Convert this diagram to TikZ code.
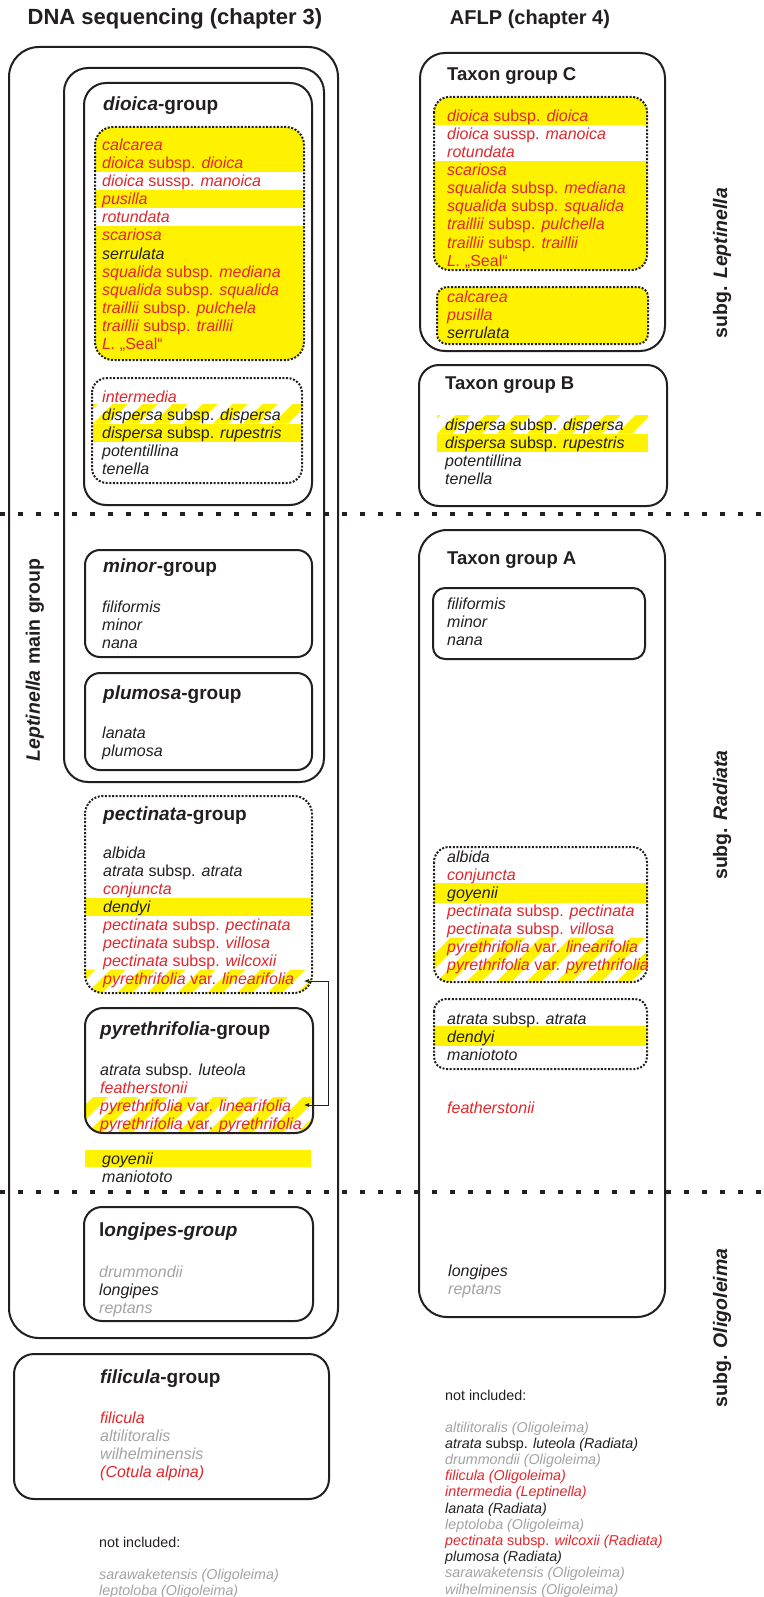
\documentclass[tikz,border=0pt]{standalone}
\usepackage{fontspec}
\setmainfont{Liberation Sans}
\usetikzlibrary{arrows.meta}
\definecolor{ink}{HTML}{231F20}
\definecolor{redt}{HTML}{E3262B}
\definecolor{grayt}{HTML}{A3A3A3}
\definecolor{yel}{HTML}{FFF200}
\newcommand\It[1]{\textit{#1}}
% #1 style, #2 name prefix, #3 x, #4 first baseline, #5 step, #6 list colour/text
\newcommand\rowsof[6]{\foreach \c/\t [count=\i] in {#6} {\node[#1, text=\c] (#2\i) at (#3, {#4+(\i-1)*#5}) {\t};}}
\newcommand\hatch[4]{\begin{scope}\clip (#1,#2) rectangle (#3,#4);
 \foreach \k in {-2,...,9} {\fill[yel] ({#1+\k*30},#4) -- ++(15,0) -- ++({#4-#2},{#2-#4}) -- ++(-15,0) -- cycle;}\end{scope}}
\begin{document}
\begin{tikzpicture}[x=1pt,y=-1pt,
  box/.style={draw=ink, line width=2pt},
  dotbox/.style={draw=ink, line width=2pt, dash pattern=on 2pt off 1.6pt},
  sepline/.style={draw=ink, line width=4.5pt, dash pattern=on 4.5pt off 13.5pt},
  row/.style={inner sep=0pt, anchor=base west, font=\fontsize{16}{18}\selectfont},
  srow/.style={inner sep=0pt, anchor=base west, font=\fontsize{14.3}{16}\selectfont},
  gtitle/.style={inner sep=0pt, anchor=base west, text=ink, font=\bfseries\fontsize{19}{22}\selectfont},
  ttitle/.style={inner sep=0pt, anchor=base west, text=ink, font=\bfseries\fontsize{18.5}{22}\selectfont},
  head/.style={inner sep=0pt, anchor=base, text=ink, font=\bfseries\fontsize{22}{26}\selectfont},
  side/.style={inner sep=0pt, rotate=90, text=ink, font=\bfseries\fontsize{19.5}{22}\selectfont},
  link/.style={draw=ink, line width=0.7pt, {Latex[length=5pt,width=4pt]}-{Latex[length=5pt,width=4pt]}}]
\useasboundingbox[fill=white] (0,0) rectangle (763,1597);

% ---------- fills, left column ----------
\begin{scope}
 \clip[rounded corners=18pt] (95,127) rectangle (304,360);
 \fill[yel] (95,127) rectangle (304,360);
 \fill[white] (90,172.5) rectangle (310,190.5);
 \fill[white] (90,208.5) rectangle (310,226.5);
\end{scope}
\hatch{93}{404}{302}{423.5}
\fill[yel] (93,423.5) rectangle (302,442);
\begin{scope}
 \clip[rounded corners=18pt] (85,796) rectangle (312,993);
 \fill[yel] (85,897.5) rectangle (312,915.5);
 \hatch{85}{969.5}{312}{995}
\end{scope}
\begin{scope}
 \clip[rounded corners=18pt] (85,1008) rectangle (313,1133);
 \hatch{85}{1097}{313}{1135}
\end{scope}
\fill[yel] (85,1150) rectangle (311,1167);

% ---------- fills, right column ----------
\begin{scope}
 \clip[rounded corners=15pt] (434,97) rectangle (647,270);
 \fill[yel] (434,97) rectangle (647,270);
 \fill[white] (430,125.5) rectangle (650,161.5);
\end{scope}
\fill[yel, rounded corners=10pt] (437,287) rectangle (648,344);
\hatch{437}{415}{648}{433.5}
\fill[yel] (437,433.5) rectangle (648,451.5);
\begin{scope}
 \clip[rounded corners=15pt] (434,847) rectangle (647,982);
 \fill[yel] (434,883) rectangle (647,903);
 \hatch{434}{937.5}{647}{984}
\end{scope}
\fill[yel] (434,1026) rectangle (647,1046);

% ---------- boxes ----------
\draw[box, rounded corners=30pt] (9,47) rectangle (338,1338);
\draw[box, rounded corners=24pt] (64,68) rectangle (324,782);
\draw[box, rounded corners=22pt] (84,83) rectangle (312,505);
\draw[dotbox, rounded corners=18pt] (95,127) rectangle (304,360);
\draw[dotbox, rounded corners=15pt] (92,378) rectangle (302,483);
\draw[box, rounded corners=15pt] (85,550) rectangle (312,657);
\draw[box, rounded corners=15pt] (85,673) rectangle (312,770);
\draw[dotbox, rounded corners=18pt] (85,796) rectangle (312,993);
\draw[box, rounded corners=18pt] (85,1008) rectangle (313,1133);
\draw[box, rounded corners=18pt] (84,1207) rectangle (313,1321);
\draw[box, rounded corners=20pt] (14,1354) rectangle (329,1499);

\draw[box, rounded corners=25pt] (420,53) rectangle (665,351);
\draw[dotbox, rounded corners=15pt] (434,97) rectangle (647,270);
\draw[dotbox, rounded corners=10pt] (437,287) rectangle (648,344);
\draw[box, rounded corners=20pt] (419,365) rectangle (667,506);
\draw[box, rounded corners=28pt] (419,530) rectangle (665,1317);
\draw[box, rounded corners=12pt] (433,588) rectangle (645,659);
\draw[dotbox, rounded corners=15pt] (434,847) rectangle (647,982);
\draw[dotbox, rounded corners=12pt] (434,999) rectangle (647,1069);

% ---------- separators ----------
\draw[sepline] (0,514) -- (763,514);
\draw[sepline] (0,1192) -- (763,1192);

% ---------- headings and side labels ----------
\node[head] (hdna) at (175,25) {DNA sequencing (chapter 3)};
\node[head, font=\bfseries\fontsize{20}{24}\selectfont] (haflp) at (530,25) {AFLP (chapter 4)};
\node[side] (lmg) at (35,660) {\It{Leptinella} main group};
\node[side] (slep) at (722,263) {subg. \It{Leptinella}};
\node[side] (srad) at (722,815) {subg. \It{Radiata}};
\node[side] (solig) at (722,1328) {subg. \It{Oligoleima}};

% ---------- left column texts ----------
\node[gtitle] (tdio) at (103,111) {\It{dioica}-group};
\rowsof{row}{dio}{102}{151}{18}{redt/{\It{calcarea}}, redt/{\It{dioica} subsp. \It{dioica}}, redt/{\It{dioica} sussp. \It{manoica}}, redt/{\It{pusilla}}, redt/{\It{rotundata}}, redt/{\It{scariosa}}, ink/{\It{serrulata}}, redt/{\It{squalida} subsp. \It{mediana}}, redt/{\It{squalida} subsp. \It{squalida}}, redt/{\It{traillii} subsp. \It{pulchela}}, redt/{\It{traillii} subsp. \It{traillii}}, redt/{\It{L.} „Seal“}}
\rowsof{row}{dis}{102}{402}{18}{redt/{\It{intermedia}}, ink/{\It{dispersa} subsp. \It{dispersa}}, ink/{\It{dispersa} subsp. \It{rupestris}}, ink/{\It{potentillina}}, ink/{\It{tenella}}}
\node[gtitle] (tmin) at (103,572) {\It{minor}-group};
\rowsof{row}{min}{102}{612}{18}{ink/{\It{filiformis}}, ink/{\It{minor}}, ink/{\It{nana}}}
\node[gtitle] (tplu) at (103,699) {\It{plumosa}-group};
\rowsof{row}{plu}{102}{738}{18}{ink/{\It{lanata}}, ink/{\It{plumosa}}}
\node[gtitle] (tpec) at (103,820) {\It{pectinata}-group};
\rowsof{row}{pec}{103}{858}{18}{ink/{\It{albida}}, ink/{\It{atrata} subsp. \It{atrata}}, redt/{\It{conjuncta}}, ink/{\It{dendyi}}, redt/{\It{pectinata} subsp. \It{pectinata}}, redt/{\It{pectinata} subsp. \It{villosa}}, redt/{\It{pectinata} subsp. \It{wilcoxii}}, redt/{\It{pyrethrifolia} var. \It{linearifolia}}}
\node[gtitle] (tpyr) at (100,1035) {\It{pyrethrifolia}-group};
\rowsof{row}{pyr}{100}{1075}{18}{ink/{\It{atrata} subsp. \It{luteola}}, redt/{\It{featherstonii}}, redt/{\It{pyrethrifolia} var. \It{linearifolia}}, redt/{\It{pyrethrifolia} var. \It{pyrethrifolia}}}
\rowsof{row}{loose}{102}{1164}{18}{ink/{\It{goyenii}}, ink/{\It{maniototo}}}
\node[gtitle] (tlon) at (99,1236) {l\It{ongipes-group}};
\rowsof{row}{lon}{99}{1277}{18}{grayt/{\It{drummondii}}, ink/{\It{longipes}}, grayt/{\It{reptans}}}
\node[gtitle] (tfil) at (100,1383) {\It{filicula}-group};
\rowsof{row}{fil}{100}{1423}{18}{redt/{\It{filicula}}, grayt/{\It{altilitoralis}}, grayt/{\It{wilhelminensis}}, redt/{\It{(Cotula alpina)}}}
\node[srow, text=ink] (nil) at (99,1547) {not included:};
\rowsof{srow}{nl}{99}{1579}{16.2}{grayt/{\It{sarawaketensis (Oligoleima)}}, grayt/{\It{leptoloba (Oligoleima)}}}

% ---------- right column texts ----------
\node[ttitle] (tC) at (447,81) {Taxon group C};
\rowsof{row}{cc}{447}{122}{18}{redt/{\It{dioica} subsp. \It{dioica}}, redt/{\It{dioica} sussp. \It{manoica}}, redt/{\It{rotundata}}, redt/{\It{scariosa}}, redt/{\It{squalida} subsp. \It{mediana}}, redt/{\It{squalida} subsp. \It{squalida}}, redt/{\It{traillii} subsp. \It{pulchella}}, redt/{\It{traillii} subsp. \It{traillii}}, redt/{\It{L.} „Seal“}}
\rowsof{row}{cd}{447}{302}{18}{redt/{\It{calcarea}}, redt/{\It{pusilla}}, ink/{\It{serrulata}}}
\node[ttitle] (tB) at (445,389) {Taxon group B};
\rowsof{row}{bb}{445}{430}{18}{ink/{\It{dispersa} subsp. \It{dispersa}}, ink/{\It{dispersa} subsp. \It{rupestris}}, ink/{\It{potentillina}}, ink/{\It{tenella}}}
\node[ttitle] (tA) at (447,564) {Taxon group A};
\rowsof{row}{aa}{447}{609}{18}{ink/{\It{filiformis}}, ink/{\It{minor}}, ink/{\It{nana}}}
\rowsof{row}{ab}{447}{862}{18}{ink/{\It{albida}}, redt/{\It{conjuncta}}, ink/{\It{goyenii}}, redt/{\It{pectinata} subsp. \It{pectinata}}, redt/{\It{pectinata} subsp. \It{villosa}}, redt/{\It{pyrethrifolia} var. \It{linearifolia}}, redt/{\It{pyrethrifolia} var. \It{pyrethrifolia}}}
\rowsof{row}{ac}{447}{1024}{18}{ink/{\It{atrata} subsp. \It{atrata}}, ink/{\It{dendyi}}, ink/{\It{maniototo}}}
\node[row, text=redt] (afe) at (447,1113) {\It{featherstonii}};
\rowsof{row}{ad}{448}{1276}{18}{ink/{\It{longipes}}, grayt/{\It{reptans}}}
\node[srow, text=ink] (nir) at (445,1400) {not included:};
\rowsof{srow}{nr}{445}{1432}{16.2}{grayt/{\It{altilitoralis (Oligoleima)}}, ink/{\It{atrata} subsp. \It{luteola (Radiata)}}, grayt/{\It{drummondii (Oligoleima)}}, redt/{\It{filicula (Oligoleima)}}, redt/{\It{intermedia (Leptinella)}}, ink/{\It{lanata (Radiata)}}, grayt/{\It{leptoloba (Oligoleima)}}, redt/{\It{pectinata} subsp. \It{wilcoxii (Radiata)}}, ink/{\It{plumosa (Radiata)}}, grayt/{\It{sarawaketensis (Oligoleima)}}, grayt/{\It{wilhelminensis (Oligoleima)}}}

% ---------- connector ----------
\coordinate (lnA) at (304,981);
\coordinate (lnB) at (304,1105);
\draw[link] (lnA) -- ++(24,0) |- (lnB);
\end{tikzpicture}
\end{document}
